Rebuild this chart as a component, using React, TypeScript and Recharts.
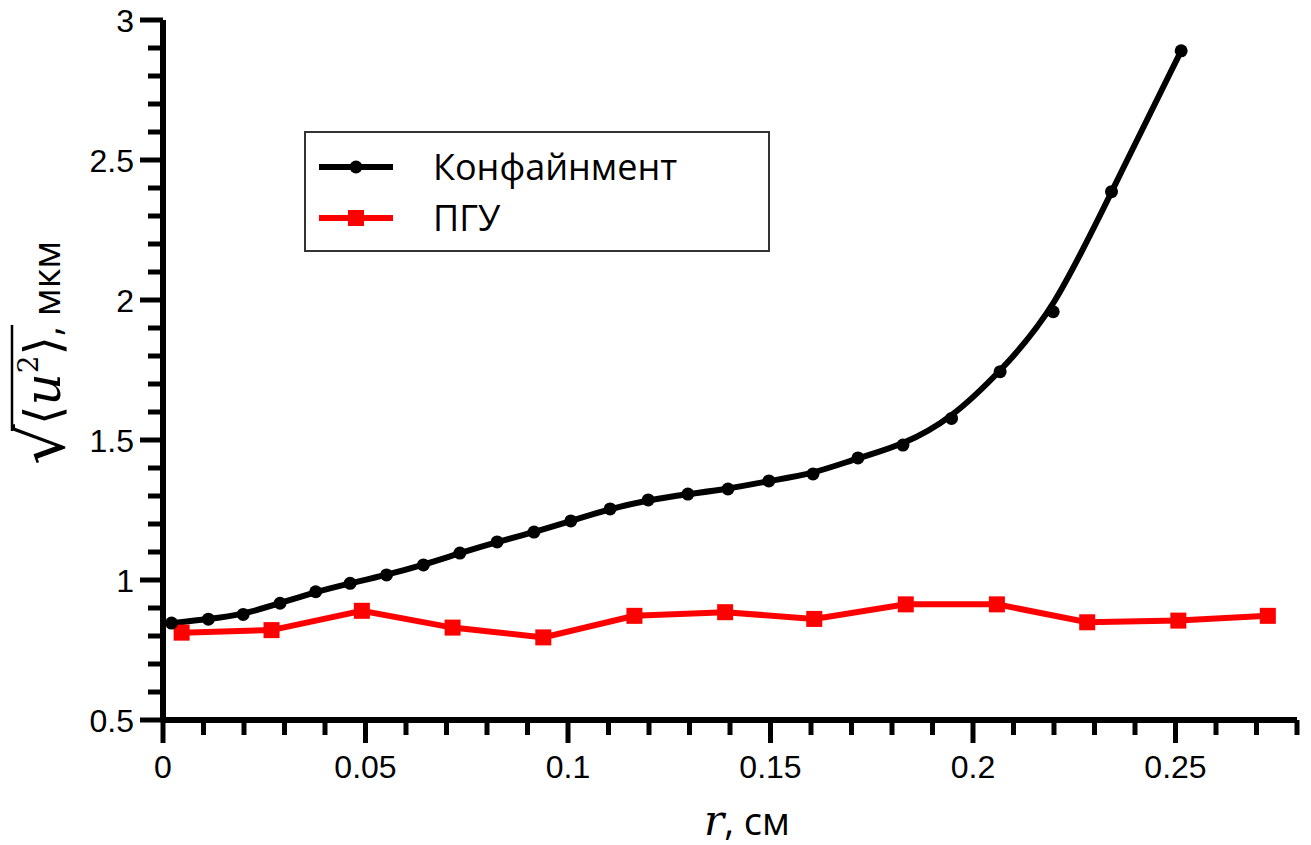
import React from 'react';
import { LineChart, Line, XAxis, YAxis, Legend } from 'recharts';

// Confinement series (black, circles)
const confR = [0.0021, 0.0112, 0.0198, 0.0289, 0.0377, 0.0462, 0.0552, 0.0643, 0.0733, 0.0825, 0.0916, 0.1007, 0.1104, 0.1198, 0.1296, 0.1395, 0.1496, 0.1605, 0.1716, 0.1827, 0.1947, 0.2067, 0.2198, 0.2342, 0.2514];
const confU = [0.846, 0.86, 0.877, 0.917, 0.958, 0.988, 1.018, 1.054, 1.096, 1.136, 1.171, 1.211, 1.254, 1.286, 1.307, 1.325, 1.354, 1.379, 1.436, 1.482, 1.577, 1.744, 1.958, 2.387, 2.89];

// PGU series (red, squares)
const pguR = [0.0046, 0.0268, 0.0491, 0.0715, 0.0939, 0.1164, 0.1388, 0.1608, 0.1834, 0.2059, 0.2282, 0.2507, 0.2728];
const pguU = [0.812, 0.821, 0.89, 0.83, 0.795, 0.872, 0.885, 0.861, 0.913, 0.913, 0.849, 0.855, 0.872];

const seriesNames = ['Конфайнмент', 'ПГУ'];

const xMajorTicks = [0, 0.05, 0.1, 0.15, 0.2, 0.25];
const xMajorLabels = ['0', '0.05', '0.1', '0.15', '0.2', '0.25'];
const yMajorTicks = [0.5, 1, 1.5, 2, 2.5, 3];
const yMajorLabels = ['0.5', '1', '1.5', '2', '2.5', '3'];

const X_DOMAIN: [number, number] = [0, 0.28];
const Y_DOMAIN: [number, number] = [0.5, 3];

// minor ticks every 0.01 on x, every 0.1 on y
const xAllTicks: number[] = [];
for (let i = 0; i <= 28; i++) xAllTicks.push(i / 100);
const yAllTicks: number[] = [];
for (let i = 5; i <= 30; i++) yAllTicks.push(i / 10);

const confData = confR.map((x, i) => ({ x, y: confU[i] }));
const pguData = pguR.map((x, i) => ({ x, y: pguU[i] }));

const majorIndex = (v: number, majors: number[]) =>
  majors.findIndex((m) => Math.abs(m - v) < 1e-9);

const TICK_FONT = '"Liberation Sans", Arial, sans-serif';
const TEXT_FONT = '"Open Sans", sans-serif';
const AXIS_W = 5;

const XTick = (props: any) => {
  const { x, y, payload } = props;
  const idx = majorIndex(payload.value, xMajorTicks);
  const major = idx >= 0;
  return (
    <g>
      <line x1={x} x2={x} y1={y} y2={y + (major ? 23 : 15)} stroke="#000" strokeWidth={AXIS_W} />
      {major && (
        <text x={x} y={y + 58} textAnchor="middle" fontFamily={TICK_FONT} fontSize={32} fill="#000">
          {xMajorLabels[idx]}
        </text>
      )}
    </g>
  );
};

const YTick = (props: any) => {
  const { x, y, payload } = props;
  const idx = majorIndex(payload.value, yMajorTicks);
  const major = idx >= 0;
  return (
    <g>
      <line x1={x} x2={x - (major ? 23 : 15)} y1={y} y2={y} stroke="#000" strokeWidth={AXIS_W} />
      {major && (
        <text x={x - 29} y={y + 11.5} textAnchor="end" fontFamily={TICK_FONT} fontSize={32} fill="#000">
          {yMajorLabels[idx]}
        </text>
      )}
    </g>
  );
};

const XTitle = (props: any) => {
  const vb = props.viewBox || { x: 163, y: 720, width: 1134, height: 125 };
  const cx = vb.x + vb.width / 2 + 17;
  const by = vb.y + 115;
  return (
    <text x={cx} y={by} textAnchor="middle" fontSize={40} fill="#000">
      <tspan fontFamily="DejaVu Serif" fontStyle="italic" fontSize={42}>r</tspan>
      <tspan fontFamily={TEXT_FONT} fontSize={38}>, см</tspan>
    </text>
  );
};

const YTitle = (props: any) => {
  const vb = props.viewBox || { x: 0, y: 20, width: 163, height: 700 };
  const cy = vb.y + vb.height / 2 - 17;
  return (
    <g transform={`translate(0, ${cy}) rotate(-90)`}>
      <text x={-112} y={64} fontFamily="DejaVu Sans" fontSize={64} fill="#000">√</text>
      <line x1={-78} x2={28} y1={12} y2={12} stroke="#000" strokeWidth={2.5} />
      <text x={-72} y={60} fontSize={50} fill="#000">
        <tspan fontFamily="DejaVu Sans">⟨</tspan>
        <tspan fontFamily="DejaVu Serif" fontStyle="italic">u</tspan>
        <tspan fontFamily="DejaVu Serif" fontSize={28} dy={-22}>2</tspan>
        <tspan fontFamily="DejaVu Sans" dy={22}>⟩</tspan>
        <tspan fontFamily={TEXT_FONT} fontSize={38}>, мкм</tspan>
      </text>
    </g>
  );
};

const SquareDot = (props: any) => {
  const { cx, cy, index } = props;
  if (cx == null || cy == null) return <g key={`sq-${index}`} />;
  return <rect key={`sq-${index}`} x={cx - 8} y={cy - 8} width={16} height={16} fill="#ff0000" />;
};

const LegendBox = (props: any) => {
  const payload = props.payload || [];
  const rows = [
    { name: payload[0]?.value ?? seriesNames[0], color: '#000000', kind: 'circle' },
    { name: payload[1]?.value ?? seriesNames[1], color: '#ff0000', kind: 'square' },
  ];
  return (
    <div
      style={{
        width: 466,
        height: 121,
        boxSizing: 'border-box',
        border: '2px solid #333',
        background: '#fff',
        position: 'relative',
      }}
    >
      <svg width={462} height={117} style={{ position: 'absolute', left: 0, top: 0 }}>
        {rows.map((r, i) => {
          const cy = i === 0 ? 34 : 85;
          return (
            <g key={r.name}>
              <line x1={13} x2={87} y1={cy} y2={cy} stroke={r.color} strokeWidth={6} />
              {r.kind === 'circle' ? (
                <circle cx={50} cy={cy} r={6.5} fill={r.color} />
              ) : (
                <rect x={42} y={cy - 8} width={16} height={16} fill={r.color} />
              )}
              <text x={127} y={cy + 12.5} fontFamily={TEXT_FONT} fontSize={36} fill="#000">
                {r.name}
              </text>
            </g>
          );
        })}
      </svg>
    </div>
  );
};

export default function App() {
  return (
    <div style={{ position: 'absolute', left: 0, top: 0, background: '#fff' }}>
      <LineChart width={1311} height={845} margin={{ top: 20, right: 14, bottom: 0, left: 0 }}>
        <XAxis
          type="number"
          dataKey="x"
          domain={X_DOMAIN}
          allowDataOverflow
          ticks={xAllTicks}
          interval={0}
          tick={<XTick />}
          tickLine={false}
          tickSize={0}
          tickMargin={0}
          axisLine={{ stroke: '#000', strokeWidth: 6 }}
          height={125}
          label={(p: any) => <XTitle {...p} />}
        />
        <YAxis
          type="number"
          dataKey="y"
          domain={Y_DOMAIN}
          allowDataOverflow
          ticks={yAllTicks}
          interval={0}
          tick={<YTick />}
          tickLine={false}
          tickSize={0}
          tickMargin={0}
          axisLine={{ stroke: '#000', strokeWidth: 6 }}
          width={163}
          label={(p: any) => <YTitle {...p} />}
        />
        <Legend
          layout="horizontal"
          verticalAlign="middle"
          align="center"
          content={<LegendBox />}
          wrapperStyle={{ position: 'absolute', left: 304, top: 131, width: 466, height: 121 }}
        />
        <Line
          data={pguData}
          dataKey="y"
          name={seriesNames[1]}
          type="linear"
          stroke="#ff0000"
          strokeWidth={6}
          dot={<SquareDot />}
          activeDot={false}
          isAnimationActive={false}
        />
        <Line
          data={confData}
          dataKey="y"
          name={seriesNames[0]}
          type="basis"
          stroke="#000000"
          strokeWidth={6}
          dot={{ r: 6.5, fill: '#000', stroke: 'none' }}
          activeDot={false}
          isAnimationActive={false}
        />
      </LineChart>
    </div>
  );
}
